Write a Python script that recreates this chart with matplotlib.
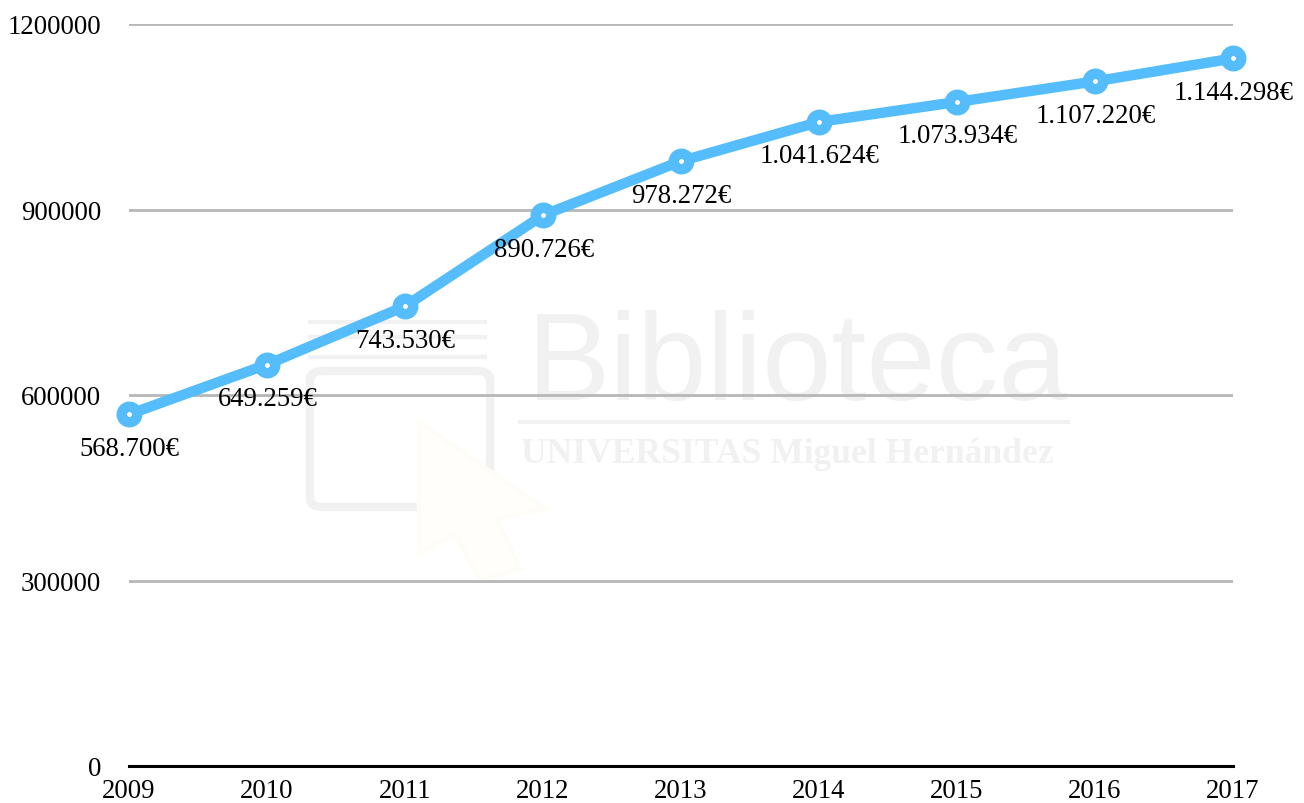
import matplotlib
matplotlib.use("Agg")
import matplotlib.pyplot as plt
from matplotlib.patches import FancyBboxPatch, Polygon
from matplotlib.lines import Line2D

years = ["2009", "2010", "2011", "2012", "2013", "2014", "2015", "2016", "2017"]
values = [568700, 649259, 743530, 890726, 978272, 1041624, 1073934, 1107220, 1144298]
labels = ["568.700€", "649.259€", "743.530€", "890.726€", "978.272€",
          "1.041.624€", "1.073.934€", "1.107.220€", "1.144.298€"]
yticks = [0, 300000, 600000, 900000, 1200000]
yticklabels = ["0", "300000", "600000", "900000", "1200000"]

W, H = 1304, 804
plt.rcParams["font.family"] = ["Liberation Serif", "DejaVu Serif"]
fig = plt.figure(figsize=(W / 100, H / 100), dpi=100)
L, R, T, B = 129, 1233, 25, 767
ax = fig.add_axes([L / W, 1 - B / H, (R - L) / W, (B - T) / H])
ax.patch.set_alpha(0)
x = list(range(len(years)))
ax.set_xlim(0, len(years) - 1)
ax.set_ylim(0, 1200000)
ax.set_yticks(yticks)
ax.set_yticklabels(yticklabels)
ax.set_xticks(x)
ax.set_xticklabels(years)
ax.tick_params(length=0, labelsize=19.3)
ax.tick_params(axis="x", pad=8.5)
ax.tick_params(axis="y", pad=20)
ax.grid(axis="y", color="#b7b7b7", lw=2)
ax.set_axisbelow(True)
for s in ["top", "right", "left"]:
    ax.spines[s].set_visible(False)
ax.spines["bottom"].set_color("black")
ax.spines["bottom"].set_linewidth(2.2)
ax.plot(x, values, color="#55bdfb", lw=7.5, marker="o", ms=11.2, mfc="white",
        mec="#55bdfb", mew=7.5, clip_on=False, zorder=3, solid_joinstyle="round")
for xi, v, lab in zip(x, values, labels):
    ax.annotate(lab, (xi, v), xytext=(0.5, -24.5), textcoords="offset points",
                ha="center", va="center", fontsize=19.3, color="black", zorder=4,
                annotation_clip=False)

# faint library watermark behind the chart
wm = "#f1f1f1"
fig.text(798 / W, 1 - 400 / H, "Biblioteca", fontsize=90, color=wm, ha="center",
         va="baseline", family=["Liberation Sans"], zorder=-5)
fig.text(787 / W, 1 - 455 / H, "UNIVERSITAS Miguel Hernández", fontsize=25.6, color=wm,
         ha="center", va="center", weight="bold", zorder=-5)
fig.add_artist(Line2D([520 / W, 1068 / W], [1 - 423 / H, 1 - 423 / H], color=wm, lw=3,
                      transform=fig.transFigure, zorder=-5))
for yy in (323, 338, 358):
    fig.add_artist(Line2D([310 / W, 485 / W], [1 - yy / H, 1 - yy / H], color=wm, lw=3,
                          transform=fig.transFigure, zorder=-5))
fig.add_artist(FancyBboxPatch((310 / W, 1 - 508 / H), 180 / W, 136 / H,
                              boxstyle="round,pad=0,rounding_size=0.01",
                              fc="none", ec=wm, lw=6, transform=fig.transFigure, zorder=-5))
fig.add_artist(Polygon([(419 / W, 1 - 423 / H), (546 / W, 1 - 510 / H), (497 / W, 1 - 520 / H),
                        (520 / W, 1 - 570 / H), (480 / W, 1 - 582 / H), (455 / W, 1 - 535 / H),
                        (419 / W, 1 - 555 / H)], closed=True, fc="#fffefa", ec="#fdfcf6", lw=3,
                       transform=fig.transFigure, zorder=-4))
fig.savefig("out.png", dpi=100, facecolor="white")
